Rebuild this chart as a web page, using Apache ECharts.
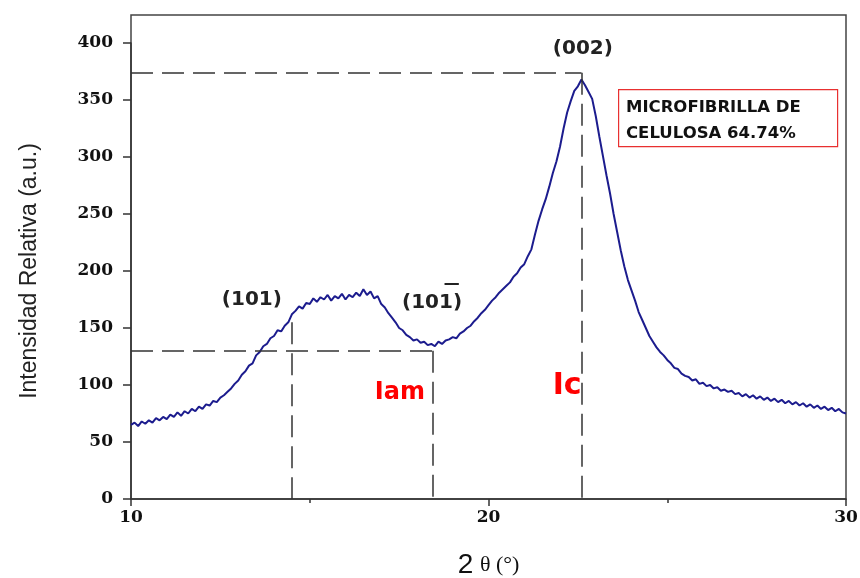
<!DOCTYPE html>
<html>
<head>
<meta charset="utf-8">
<script src="https://cdn.jsdelivr.net/npm/echarts@6/dist/echarts.min.js"></script>
<style>
  html, body { margin: 0; padding: 0; background: #fff; }
  #main { width: 860px; height: 578px; }
</style>
</head>
<body>
<div id="main"></div>
<script>
// 2-theta scan, one reading every 0.1 degree from 10 to 30
const thetaStart = 10;
const thetaStep = 0.1;
const intensity = [
  65, 67, 64, 68, 66, 69, 67, 71, 69, 72,
  70, 74, 72, 76, 73, 77, 75, 79, 77, 81,
  79, 83, 82, 86, 85, 89, 91, 94, 97, 101,
  104, 109, 112, 117, 119, 126, 129, 134, 136, 141,
  143, 148, 147, 152, 155, 162, 165, 169, 167, 172,
  171, 176, 173, 177, 175, 179, 174, 178, 176, 180,
  175, 179, 177, 181, 178, 184, 179, 182, 176, 178,
  171, 168, 163, 159, 155, 150, 148, 144, 142, 139,
  140, 137, 138, 135, 136, 134, 138, 136, 139, 140,
  142, 141, 145, 147, 150, 152, 156, 159, 163, 166,
  170, 174, 177, 181, 184, 187, 190, 195, 198, 203,
  206, 213, 219, 232, 244, 254, 263, 274, 286, 296,
  309, 325, 339, 349, 358, 362, 368, 363, 357, 351,
  336, 318, 301, 284, 268, 250, 234, 218, 204, 192,
  183, 174, 164, 157, 150, 143, 138, 133, 129, 126,
  122, 119, 115, 114, 110, 108, 107, 104, 105, 101,
  102, 99, 100, 97, 98, 95, 96, 94, 95, 92,
  93, 90, 92, 89, 91, 88, 90, 87, 89, 86,
  88, 85, 87, 84, 86, 83, 85, 82, 84, 81,
  83, 80, 82, 79, 81, 78, 80, 77, 79, 76,
  75
];
const xTicks = [10, 20, 30];
const yTicks = [0, 50, 100, 150, 200, 250, 300, 350, 400];

const scan = intensity.map((v, i) => [+(thetaStart + i * thetaStep).toFixed(1), v]);

const tickFont = {
  fontFamily: "DejaVu Serif",
  fontWeight: "bold",
  fontSize: 17,
  color: "#111",
};
const noteFont = {
  fontFamily: "DejaVu Sans",
  fontWeight: "bold",
  fontSize: 20,
  color: "#222",
};
const redFont = {
  fontFamily: "DejaVu Sans",
  fontWeight: "bold",
  color: "#f00",
};
const dashed = { type: [22, 9], color: "#333", width: 1.5 };

const chart = echarts.init(document.getElementById("main"));
chart.setOption({
  animation: false,
  backgroundColor: "#fff",
  grid: [
    // outer frame
    { left: 131, right: 14, top: 15, bottom: 79, outerBoundsMode: "none", show: true, borderColor: "#444", borderWidth: 1.5 },
    // plotting area
    { left: 131, right: 14, top: 43, bottom: 79, outerBoundsMode: "none" },
  ],
  xAxis: [
    { gridIndex: 0, type: "value", show: false, min: 0, max: 1 },
    {
      gridIndex: 1,
      type: "value",
      min: xTicks[0],
      max: xTicks[xTicks.length - 1],
      interval: xTicks[1] - xTicks[0],
      splitLine: { show: false },
      axisLine: { lineStyle: { color: "#333", width: 1.5 } },
      axisTick: { length: 7, lineStyle: { color: "#333", width: 1.5 } },
      minorTick: { show: true, splitNumber: 2, length: 4, lineStyle: { color: "#333", width: 1.5 } },
      axisLabel: { ...tickFont, margin: 10 },
      name: "{a|2}  {b|θ (°)}",
      nameLocation: "middle",
      nameGap: 52,
      nameTextStyle: {
        rich: {
          a: { fontFamily: "Liberation Sans", fontSize: 28, color: "#111" },
          b: { fontFamily: "Liberation Serif", fontSize: 22, color: "#111" },
        },
      },
    },
  ],
  yAxis: [
    { gridIndex: 0, type: "value", show: false, min: 0, max: 1 },
    {
      gridIndex: 1,
      type: "value",
      min: yTicks[0],
      max: yTicks[yTicks.length - 1],
      interval: yTicks[1] - yTicks[0],
      splitLine: { show: false },
      axisLine: { show: true, lineStyle: { color: "#333", width: 1.5 } },
      axisTick: { show: true, length: 8, lineStyle: { color: "#333", width: 1.5 } },
      axisLabel: { ...tickFont, margin: 18 },
      name: "Intensidad Relativa (a.u.)",
      nameLocation: "middle",
      nameGap: 90,
      nameTextStyle: { fontFamily: "Liberation Sans", fontSize: 23, color: "#222" },
    },
  ],
  series: [
    {
      type: "line",
      xAxisIndex: 1,
      yAxisIndex: 1,
      data: scan,
      showSymbol: false,
      lineStyle: { color: "#1c1c8e", width: 2 },
      markLine: {
        silent: true,
        symbol: "none",
        label: { show: false },
        lineStyle: dashed,
        data: [
          [{ coord: [10, 374] }, { coord: [22.6, 374] }],
          [{ coord: [22.6, 374] }, { coord: [22.6, 0] }],
          [{ coord: [10, 130] }, { coord: [18.45, 130] }],
          [{ coord: [18.45, 130] }, { coord: [18.45, 0] }],
          [{ coord: [14.5, 155] }, { coord: [14.5, 0] }],
          // bar over the last 1 of (10-1)
          [
            { coord: [18.77, 189], lineStyle: { type: "solid", color: "#222", width: 2 } },
            { coord: [19.17, 189] },
          ],
        ],
      },
      markPoint: {
        silent: true,
        symbol: "circle",
        symbolSize: 0,
        data: [
          { coord: [13.38, 175], label: { show: true, position: "inside", formatter: "(101)", ...noteFont } },
          { coord: [18.42, 172], label: { show: true, position: "inside", formatter: "(101)", ...noteFont } },
          { coord: [22.64, 395], label: { show: true, position: "inside", formatter: "(002)", ...noteFont } },
          { coord: [17.52, 93], label: { show: true, position: "inside", formatter: "Iam", fontSize: 24, ...redFont } },
          { coord: [22.2, 99], label: { show: true, position: "inside", formatter: "Ic", fontSize: 30, ...redFont } },
        ],
      },
    },
  ],
  graphic: [
    {
      type: "rect",
      left: 618,
      top: 89,
      shape: { width: 219, height: 57 },
      style: { fill: "#fff", stroke: "#e83030", lineWidth: 1.2 },
    },
    {
      type: "text",
      left: 626,
      top: 95,
      style: {
        text: "MICROFIBRILLA DE\nCELULOSA 64.74%",
        fontFamily: "DejaVu Sans",
        fontWeight: "bold",
        fontSize: 16.5,
        lineHeight: 26,
        fill: "#111",
      },
    },
  ],
});
</script>
</body>
</html>
